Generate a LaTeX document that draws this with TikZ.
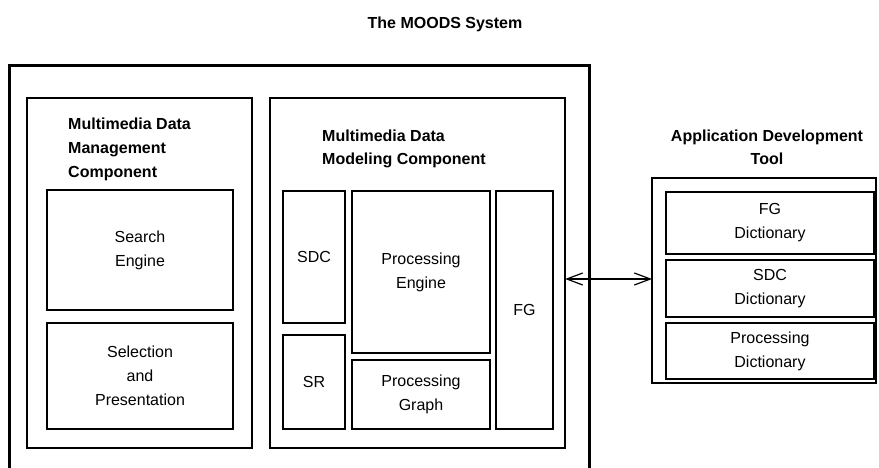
\documentclass[tikz,border=0pt]{standalone}
\usepackage{fontspec}
\setmainfont{Liberation Sans}
\usetikzlibrary{arrows.meta}
\begin{document}
\begin{tikzpicture}[x=1pt,y=-1pt,
  font=\fontsize{16}{24}\selectfont,
  bigbox/.style={draw, line width=2.5pt, inner sep=0pt, outer sep=0pt},
  smallbox/.style={draw, line width=1.1pt, align=center, inner sep=0pt, outer sep=0pt},
  heading/.style={font=\fontsize{16}{24}\selectfont\bfseries, inner sep=0pt},
  barb/.tip={Straight Barb[length=16pt,width=12pt,line width=1.2pt]}]
\useasboundingbox (0,0) rectangle (879,468);

% title
\node[heading, anchor=base] (title) at (445,29) {The MOODS System};

% outer system box (bottom edge outside the picture)
\draw[line width=3pt] (9,468) |- (589,66) -- (589,468);

% management component
\node[bigbox, minimum width=225pt, minimum height=350pt] (mgmt) at (139.5,273) {};
\node[heading, anchor=base west] (mg1) at (68,130) {Multimedia Data};
\node[heading, anchor=base west] (mg2) at (68,154) {Management};
\node[heading, anchor=base west] (mg3) at (68,178) {Component};
\node[smallbox, minimum width=186pt, minimum height=120pt] (search) at (140,250) {Search\\Engine};
\node[smallbox, minimum width=186pt, minimum height=106pt] (select) at (140,376) {Selection\\and\\Presentation};

% modeling component
\node[bigbox, minimum width=295pt, minimum height=350pt] (model) at (417.5,273) {};
\node[heading, anchor=base west] (md1) at (322,142) {Multimedia Data};
\node[heading, anchor=base west] (md2) at (322,165) {Modeling Component};
\node[smallbox, minimum width=62pt, minimum height=132pt] (sdc) at (314,257) {SDC};
\node[smallbox, minimum width=62pt, minimum height=94pt] (sr) at (314,382) {SR};
\node[smallbox, minimum width=138pt, minimum height=162pt] (pe) at (421,272) {Processing\\Engine};
\node[smallbox, minimum width=138pt, minimum height=69pt] (pg) at (421,394.5) {Processing\\Graph};
\node[smallbox, minimum width=57pt, minimum height=238pt] (fg) at (524.5,310) {FG};

% application development tool
\node[heading, anchor=base] (ad1) at (767,142) {Application Development};
\node[heading, anchor=base] (ad2) at (767,165) {Tool};
\node[bigbox, minimum width=224pt, minimum height=205pt] (tool) at (764,280.5) {};
\node[smallbox, minimum width=208pt, minimum height=62pt] (fgd) at (770,223) {FG\\Dictionary};
\node[smallbox, minimum width=208pt, minimum height=57pt] (sdcd) at (770,288.5) {SDC\\Dictionary};
\node[smallbox, minimum width=208pt, minimum height=56pt] (pd) at (770,351) {Processing\\Dictionary};

% connector
\coordinate (ay) at (0,279);
\draw[line width=1.2pt, barb-barb] (model.east |- ay) -- (tool.west |- ay);
\end{tikzpicture}
\end{document}
